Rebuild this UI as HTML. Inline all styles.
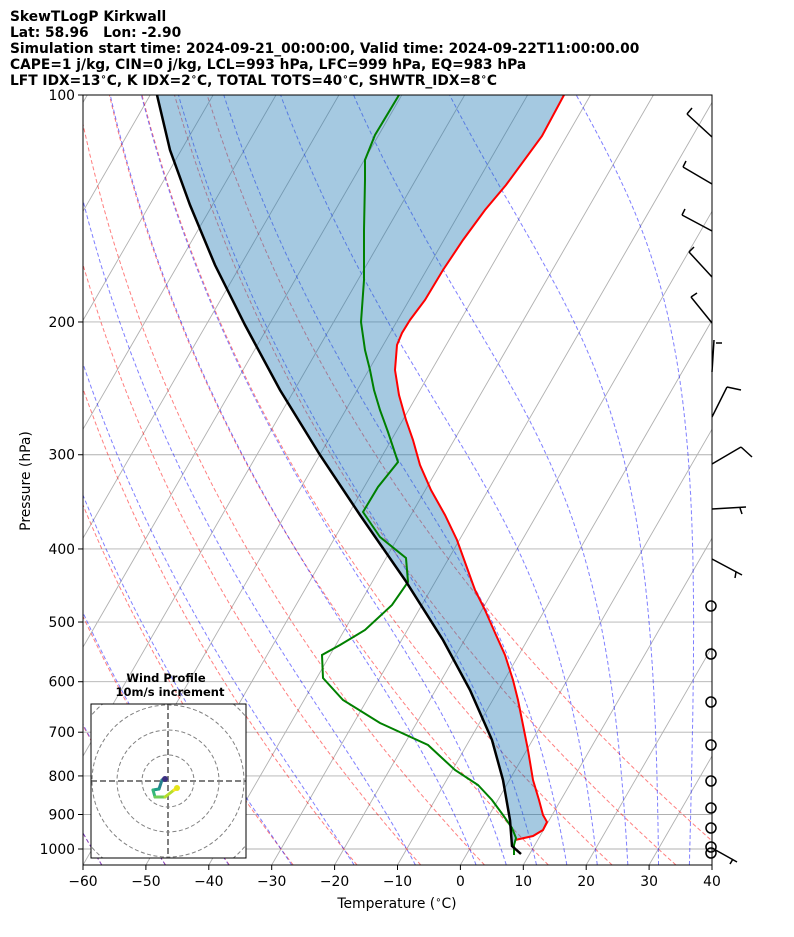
<!DOCTYPE html>
<html><head><meta charset="utf-8"><style>
body{margin:0;background:#fff;}
svg{display:block;font-family:"DejaVu Sans","Liberation Sans",sans-serif;}
</style></head><body>
<svg id="s" width="794" height="937" xmlns="http://www.w3.org/2000/svg">
<defs><clipPath id="c"><rect x="83" y="95" width="629" height="770"/></clipPath></defs>
<g font-weight="bold" font-size="13.8" fill="#000">
<text x="10" y="21">SkewTLogP Kirkwall</text>
<text x="10" y="37" xml:space="preserve">Lat: 58.96   Lon: -2.90</text>
<text x="10" y="53">Simulation start time: 2024-09-21_00:00:00, Valid time: 2024-09-22T11:00:00.00</text>
<text x="10" y="69">CAPE=1 j/kg, CIN=0 j/kg, LCL=993 hPa, LFC=999 hPa, EQ=983 hPa</text>
<text x="10" y="85">LFT IDX=13<tspan font-size="10" dy="-5">∘</tspan><tspan dy="5">C, K IDX=2</tspan><tspan font-size="10" dy="-5">∘</tspan><tspan dy="5">C, TOTAL TOTS=40</tspan><tspan font-size="10" dy="-5">∘</tspan><tspan dy="5">C, SHWTR_IDX=8</tspan><tspan font-size="10" dy="-5">∘</tspan><tspan dy="5">C</tspan></text>
</g>
<g id="plot" clip-path="url(#c)"></g>
<g id="over"></g>
<rect x="83" y="95" width="629" height="770" fill="none" stroke="#000" stroke-width="1"/>
<g id="ticks" font-size="13.9"></g>
<text x="397" y="908" font-size="13.9" text-anchor="middle">Temperature (<tspan font-size="10" dy="-5">∘</tspan><tspan dy="5">C)</tspan></text>
<text transform="translate(30,481) rotate(-90)" font-size="13.9" text-anchor="middle">Pressure (hPa)</text>
</svg>
<script>
var NS="http://www.w3.org/2000/svg";
function el(p,t,a){var e=document.createElementNS(NS,t);for(var k in a)e.setAttribute(k,a[k]);p.appendChild(e);return e;}
function Y(p){return 95+754*Math.log10(p/100);}
function X(T,y){return 83+(T+60)*6.29+0.5774*(865-y);}
var plot=document.getElementById('plot'),over=document.getElementById('over'),tk=document.getElementById('ticks');
function pts(arr){return arr.map(function(a){return a[0].toFixed(1)+','+a[1].toFixed(1)}).join(' ');}
for(var T=-140;T<=40;T+=10){var y1=865,y2=95;el(plot,'line',{x1:X(T,y1),y1:y1,x2:X(T,y2),y2:y2,stroke:'#b0b0b0','stroke-width':0.9});}
for(var p=100;p<=1000;p+=100){var y=Y(p);el(plot,'line',{x1:83,y1:y,x2:712,y2:y,stroke:'#b0b0b0','stroke-width':0.9});}
for(var t0=-60;t0<=40;t0+=10){var a=[];for(var p=1050;p>=100;p-=10){var T=(t0+273.15)*Math.pow(p/1000,0.2857)-273.15;var y=Y(p);a.push([X(T,y),y]);}
el(plot,'polyline',{points:pts(a),fill:'none',stroke:'#ff0000','stroke-opacity':0.5,'stroke-width':1,'stroke-dasharray':'4,2.5'});}
function dTdp(p,T){var Tc=T-273.15;var es=6.112*Math.exp(17.67*Tc/(Tc+243.5));var rs=0.622*es/(p-es);var Rd=287.04,Lv=2.501e6,Cp=1005.7;
return (Rd*T+Lv*rs)/(Cp+Lv*Lv*rs*0.622/(Rd*T*T))/p;}
var mt=[-60,-50,-40,-30,-20,-10,0,5,10,15,20,25,30,35,40];
mt.forEach(function(t0){var up=[],T=t0+273.15,p=1000,h=-2;
 while(p>100){var k1=dTdp(p,T),k2=dTdp(p+h/2,T+h/2*k1),k3=dTdp(p+h/2,T+h/2*k2),k4=dTdp(p+h,T+h*k3);T+=h/6*(k1+2*k2+2*k3+k4);p+=h;up.push([p,T]);}
 var dn=[];T=t0+273.15;p=1000;h=2;
 while(p<1050){var k1=dTdp(p,T),k2=dTdp(p+h/2,T+h/2*k1),k3=dTdp(p+h/2,T+h/2*k2),k4=dTdp(p+h,T+h*k3);T+=h/6*(k1+2*k2+2*k3+k4);p+=h;dn.push([p,T]);}
 var all=dn.reverse().concat([[1000,t0+273.15]]).concat(up);
 var a=all.map(function(q){var y=Y(q[0]);return [X(q[1]-273.15,y),y];});
 el(plot,'polyline',{points:pts(a),fill:'none',stroke:'#0000ff','stroke-opacity':0.5,'stroke-width':1,'stroke-dasharray':'4,2.5'});
});
var red=[[564,95],[542,136],[506,185],[485,210],[463,240],[443,270],[425,300],[410,320],[402,333],[397,345],[395,370],[399,395],[406,420],[413,440],[420,465],[431,490],[445,515],[457,540],[466,565],[475,590],[485,610],[496,635],[505,655],[513,680],[518,700],[523,725],[528,750],[533,780],[539,800],[543,815],[547,822],[543,830],[533,836],[515,840]];
var grn=[[399,95],[375,135],[365,160],[365,180],[364,230],[364,280],[361,322],[365,350],[370,370],[374,390],[380,410],[388,432],[398,462],[378,487],[363,512],[380,537],[406,558],[408,582],[392,605],[365,630],[340,645],[322,655],[323,678],[343,700],[380,723],[428,745],[455,770],[478,785],[492,800],[503,815],[512,828],[516,838],[514,845],[514,855]];
var blk=[[157,95],[170,150],[190,205],[215,265],[245,325],[280,390],[320,455],[360,515],[405,580],[443,640],[470,690],[492,740],[503,780],[510,820],[512,846],[521,854]];
var poly=blk.slice(0,15).concat(red.slice().reverse());
el(plot,'polygon',{points:pts(poly),fill:'#1f77b4','fill-opacity':0.4,stroke:'none'});
el(plot,'polyline',{points:pts(red),fill:'none',stroke:'#ff0000','stroke-width':2});
el(plot,'polyline',{points:pts(grn),fill:'none',stroke:'#008000','stroke-width':2});
el(plot,'polyline',{points:pts(blk),fill:'none',stroke:'#000','stroke-width':2.5});
var barbs=[[[712,137],[687,114],[[687,114],[692,108]]],[[712,184],[683,167],[[683,167],[686,161]]],[[712,231],[682,215],[[682,215],[685,209]]],[[712,277],[689,252],[[689,252],[694,247]]],[[712,323],[691,297],[[691,297],[697,293]]],[[712,372],[714,340],[[716,343],[722,343]]],[[712,417],[727,387],[[727,387],[741,390]]],[[712,464],[741,447],[[741,447],[752,457]]],[[712,509],[746,507],[[740,508],[742,514]]],[[712,559],[742,575],[[736,572],[735,578]]],[[712,848],[737,862],[[733,859],[730,864]]]];
barbs.forEach(function(b){el(over,'line',{x1:b[0][0],y1:b[0][1],x2:b[1][0],y2:b[1][1],stroke:'#000','stroke-width':1.5});
el(over,'line',{x1:b[2][0][0],y1:b[2][0][1],x2:b[2][1][0],y2:b[2][1][1],stroke:'#000','stroke-width':1.5});});
[606,654,702,745,781,808,828,847,853].forEach(function(y){el(over,'circle',{cx:711,cy:y,r:5,fill:'none',stroke:'#000','stroke-width':1.5});});
el(over,'text',{x:166,y:682,'font-size':11.5,'font-weight':'bold','text-anchor':'middle'}).textContent='Wind Profile';
el(over,'text',{x:170,y:696,'font-size':11.5,'font-weight':'bold','text-anchor':'middle'}).textContent='10m/s increment';
el(over,'rect',{x:91,y:704,width:155,height:154,fill:'#fff',stroke:'none'});
var ic=el(over,'g',{});
el(el(over,'defs',{}),'clipPath',{id:'ci'}).appendChild(document.createElementNS(NS,'rect'));
var cr=document.querySelector('#ci rect');cr.setAttribute('x',91);cr.setAttribute('y',704);cr.setAttribute('width',155);cr.setAttribute('height',154);
ic.setAttribute('clip-path','url(#ci)');
[26,51,76,101].forEach(function(r){el(ic,'circle',{cx:168,cy:781,r:r,fill:'none',stroke:'#808080','stroke-width':1,'stroke-dasharray':'4,2.5'});});
el(ic,'line',{x1:91,y1:781,x2:246,y2:781,stroke:'#808080','stroke-width':2,'stroke-dasharray':'6,3'});
el(ic,'line',{x1:168,y1:704,x2:168,y2:858,stroke:'#808080','stroke-width':2,'stroke-dasharray':'6,3'});
var hp=[[166,778,'#482878'],[162,780,'#3e4a89'],[159,789,'#26828e'],[153,790,'#1f9e89'],[155,797,'#35b779'],[165,797,'#6ece58'],[174,790,'#b5de2b'],[178,788,'#fde725']];
for(var i=1;i<hp.length;i++)el(ic,'line',{x1:hp[i-1][0],y1:hp[i-1][1],x2:hp[i][0],y2:hp[i][1],stroke:hp[i][2],'stroke-width':3,'stroke-linecap':'round'});
el(ic,'circle',{cx:165,cy:779,r:3,fill:'#3b2f80'});
el(ic,'circle',{cx:177,cy:788,r:3,fill:'#e5e419'});
el(over,'rect',{x:91,y:704,width:155,height:154,fill:'none',stroke:'#000','stroke-width':1});
for(var T=-60;T<=40;T+=10){var x=83+(T+60)*6.29;el(tk,'line',{x1:x,y1:865,x2:x,y2:870,stroke:'#000'});
el(tk,'text',{x:x,y:886,'text-anchor':'middle'}).textContent=(T<0?'\u2212'+(-T):T);}
for(var p=100;p<=1000;p+=100){var y=Y(p);el(tk,'line',{x1:78,y1:y,x2:83,y2:y,stroke:'#000'});
el(tk,'text',{x:75,y:y+5,'text-anchor':'end'}).textContent=p;}
</script>
</body></html>
